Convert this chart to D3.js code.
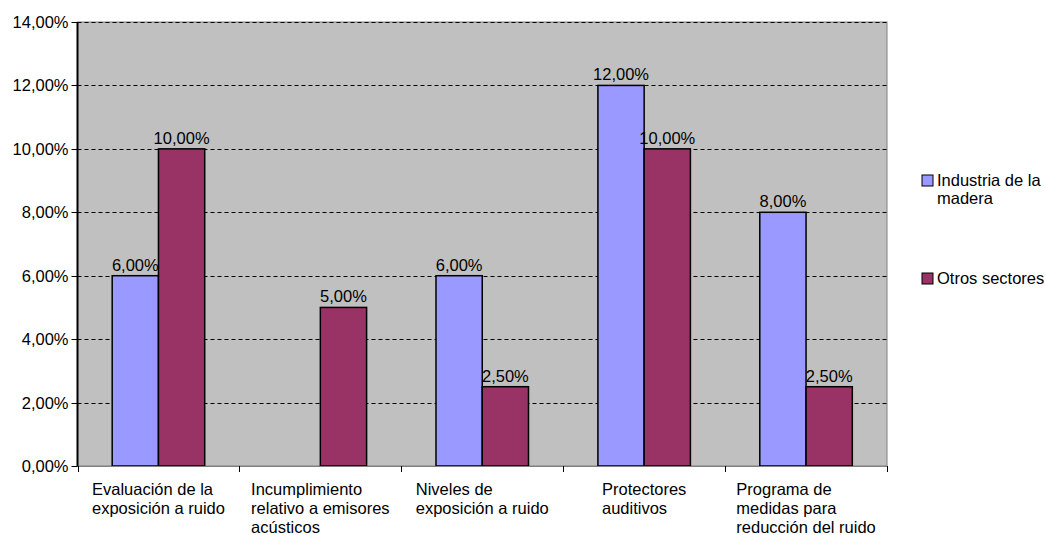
<!DOCTYPE html>
<html lang="es">
	<head>
		<meta charset="utf-8">
		<title>Ruido</title>
		<script src="https://cdn.jsdelivr.net/npm/d3@7/dist/d3.min.js"></script>
		<style>
			body { margin: 0; background: #fff; }
			text { font-family: "Liberation Sans", Arial, sans-serif; fill: #000; }
		</style>
	</head>
	<body>
	<script>
		//data
		var categories = [
			["Evaluación de la", "exposición a ruido"],
			["Incumplimiento", "relativo a emisores", "acústicos"],
			["Niveles de", "exposición a ruido"],
			["Protectores", "auditivos"],
			["Programa de", "medidas para", "reducción del ruido"]
		];
		var seriesNames = ["Industria de la madera", "Otros sectores"];
		var madera = [0.06, null, 0.06, 0.12, 0.08];
		var otros = [0.10, 0.05, 0.025, 0.10, 0.025];
		var yTicks = [0, 0.02, 0.04, 0.06, 0.08, 0.10, 0.12, 0.14];
		var colors = ["#9999FF", "#993366"];

		var W = 1045, H = 535;
		var pLeft = 77.5, pRight = 887, pTop = 22, pBottom = 466;
		var fs = "16.5px";
		var fmt = function(v) { return (v * 100).toFixed(2).replace(".", ",") + "%"; };

		var svg = d3.select("body").append("svg")
			.attr("width", W).attr("height", H);

		var x = d3.scaleBand().domain(d3.range(categories.length))
			.range([pLeft, pRight]).paddingInner(0).paddingOuter(0);
		var y = d3.scaleLinear().domain([0, 0.14]).range([pBottom, pTop]);

		//plot background
		svg.append("rect").attr("x", pLeft).attr("y", pTop)
			.attr("width", pRight - pLeft).attr("height", pBottom - pTop)
			.attr("fill", "#C0C0C0").attr("stroke", "#808080").attr("stroke-width", 1);

		//gridlines
		svg.selectAll(".grid").data(yTicks).enter().append("line")
			.attr("x1", pLeft).attr("x2", pRight)
			.attr("y1", function(d) { return Math.round(y(d)) + 0.5; })
			.attr("y2", function(d) { return Math.round(y(d)) + 0.5; })
			.attr("stroke", "#000").attr("stroke-width", 1)
			.attr("stroke-dasharray", "4,3");

		//bars
		var bw = x.bandwidth() / 3.5;
		var series = [madera, otros];
		series.forEach(function(s, si) {
			var data = s.map(function(v, i) { return {i: i, v: v}; })
				.filter(function(d) { return d.v !== null; });
			svg.selectAll(".bar" + si).data(data).enter().append("rect")
				.attr("x", function(d) { return x(d.i) + bw * 0.75 + si * bw; })
				.attr("y", function(d) { return y(d.v); })
				.attr("width", bw)
				.attr("height", function(d) { return y(0) - y(d.v); })
				.attr("fill", colors[si])
				.attr("stroke", "#000").attr("stroke-width", 1.5);
			svg.selectAll(".lab" + si).data(data).enter().append("text")
				.attr("x", function(d) { return x(d.i) + bw * 0.75 + si * bw + bw / 2; })
				.attr("y", function(d) { return y(d.v) - 5; })
				.attr("text-anchor", "middle")
				.style("font-size", fs)
				.text(function(d) { return fmt(d.v); });
		});

		//y axis
		svg.append("line").attr("x1", pLeft).attr("x2", pLeft)
			.attr("y1", pTop).attr("y2", pBottom + 1)
			.attr("stroke", "#000").attr("stroke-width", 2);
		svg.selectAll(".ytick").data(yTicks).enter().append("line")
			.attr("x1", pLeft - 6).attr("x2", pLeft)
			.attr("y1", function(d) { return Math.round(y(d)) + 0.5; })
			.attr("y2", function(d) { return Math.round(y(d)) + 0.5; })
			.attr("stroke", "#000");
		svg.selectAll(".ylab").data(yTicks).enter().append("text")
			.attr("x", pLeft - 9)
			.attr("y", function(d) { return y(d) + 6; })
			.attr("text-anchor", "end")
			.style("font-size", fs)
			.text(fmt);

		//x axis
		svg.append("line").attr("x1", pLeft).attr("x2", pRight)
			.attr("y1", pBottom + 0.5).attr("y2", pBottom + 0.5)
			.attr("stroke", "#808080");
		var xt = d3.range(categories.length + 1).map(function(i) { return pLeft + i * x.bandwidth(); });
		svg.selectAll(".xtick").data(xt).enter().append("line")
			.attr("x1", function(d) { return Math.round(d) + 0.5; })
			.attr("x2", function(d) { return Math.round(d) + 0.5; })
			.attr("y1", pBottom).attr("y2", pBottom + 6)
			.attr("stroke", "#000");

		categories.forEach(function(lines, i) {
			var g = svg.append("g");
			var t = g.append("text").style("font-size", fs);
			lines.forEach(function(l, k) {
				t.append("tspan").attr("x", 0).attr("y", 495 + k * 19).text(l);
			});
			var w = d3.max(t.selectAll("tspan").nodes(), function(n) { return n.getComputedTextLength(); });
			g.attr("transform", "translate(" + (x(i) + x.bandwidth() / 2 - w / 2) + ",0)");
		});

		//legend
		var leg = svg.append("g");
		var legY = [175, 273];
		var legLines = [["Industria de la", "madera"], ["Otros sectores"]];
		legLines.forEach(function(lines, i) {
			leg.append("rect").attr("x", 922).attr("y", legY[i])
				.attr("width", 11).attr("height", 11)
				.attr("fill", colors[i]).attr("stroke", "#000").attr("stroke-width", 1);
			var t = leg.append("text").style("font-size", fs);
			lines.forEach(function(l, k) {
				t.append("tspan").attr("x", 937).attr("y", legY[i] + 11 + k * 17.5).text(l);
			});
		});
	</script>
	</body>
</html>
